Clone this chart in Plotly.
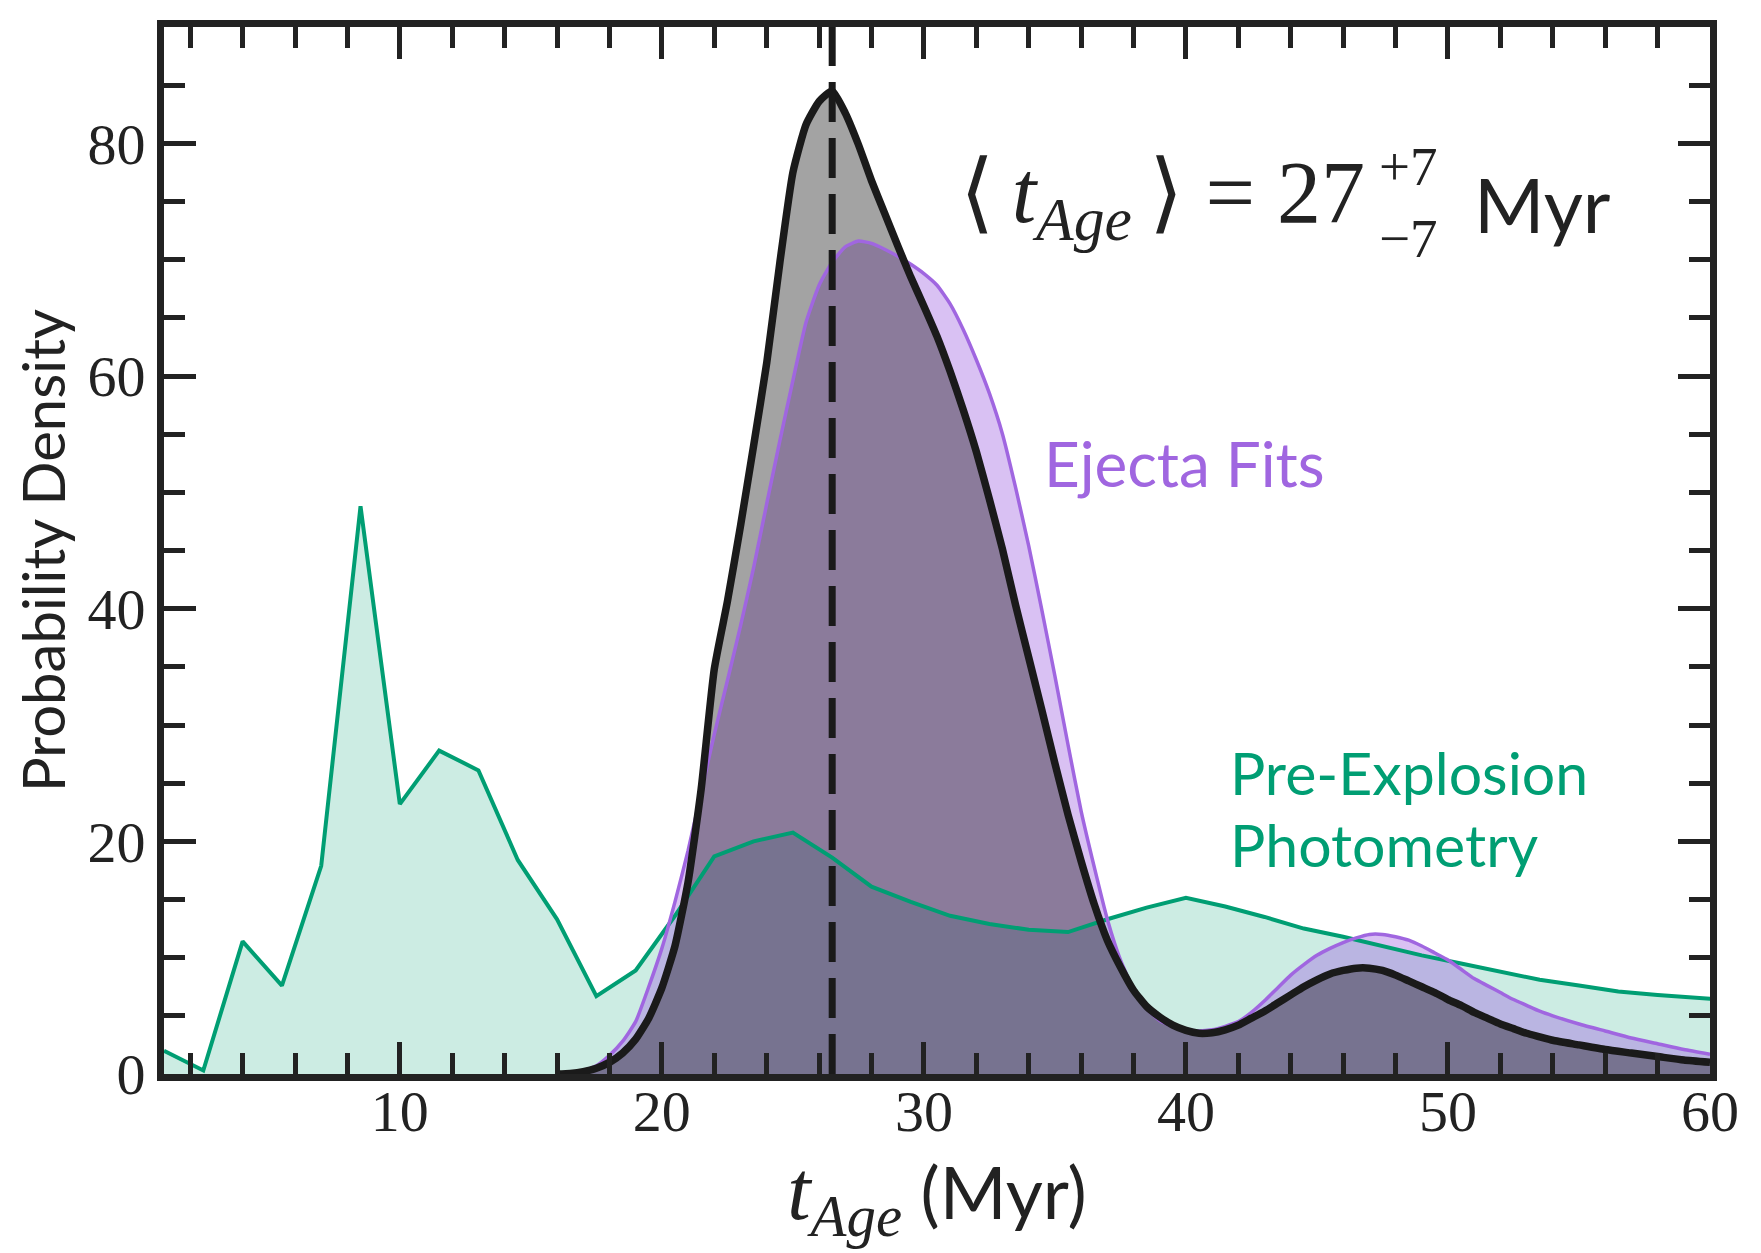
import plotly.graph_objects as go

# Edades (Myr) y densidades
t_pre = [1.0, 2.5, 4.0, 5.5, 7.0, 8.5, 10.0, 11.5, 13.0, 14.5, 16.0, 17.5, 19.0, 20.5,
         22.0, 23.5, 25.0, 26.5, 28.0, 29.5, 31.0, 32.5, 34.0, 35.5, 37.0, 38.5, 40.0,
         41.5, 43.0, 44.5, 46.0, 47.5, 49.0, 50.5, 52.0, 53.5, 55.0, 56.5, 58.0, 59.5, 61.0]
p_pre = [2.0, 0.3, 11.4, 7.6, 17.9, 48.8, 23.2, 27.8, 26.1, 18.4, 13.3, 6.7, 8.9, 13.6,
         18.7, 20.0, 20.75, 18.6, 16.1, 14.8, 13.6, 12.9, 12.4, 12.2, 13.3, 14.3, 15.15,
         14.4, 13.5, 12.5, 11.8, 11.0, 10.2, 9.5, 8.8, 8.1, 7.6, 7.1, 6.8, 6.5, 6.3]

t_grid = [16.0, 16.5, 17.0, 17.5, 18.0, 18.5, 19.0, 19.5, 20.0, 20.5, 21.0, 21.5, 22.0, 22.5,
          23.0, 23.5, 24.0, 24.5, 25.0, 25.5, 26.0, 26.5, 27.0, 27.5, 28.0, 28.5, 29.0, 29.5,
          30.0, 30.5, 31.0, 31.5, 32.0, 32.5, 33.0, 33.5, 34.0, 34.5, 35.0, 35.5, 36.0, 36.5,
          37.0, 37.5, 38.0, 38.5, 39.0, 39.5, 40.0, 40.5, 41.0, 41.5, 42.0, 42.5, 43.0, 43.5,
          44.0, 44.5, 45.0, 45.5, 46.0, 46.5, 47.0, 47.5, 48.0, 48.5, 49.0, 49.5, 50.0, 50.5,
          51.0, 51.5, 52.0, 52.5, 53.0, 53.5, 54.0, 55.0, 56.0, 57.0, 58.0, 59.0, 60.0]

p_ejecta = [0.0, 0.1, 0.3, 0.7, 1.6, 2.8, 4.5, 7.5, 10.8, 14.8, 19.2, 24.2, 29.2, 33.8,
            38.5, 43.5, 49.0, 54.4, 59.6, 64.6, 67.8, 69.8, 71.1, 71.6, 71.4, 70.9, 70.3, 69.6,
            68.8, 67.8, 66.2, 64.0, 61.4, 58.5, 55.0, 50.4, 45.4, 39.9, 34.2, 28.3, 22.6, 17.8,
            13.3, 9.8, 7.3, 5.6, 4.6, 4.1, 3.8, 3.7, 3.8, 4.1, 4.5, 5.3, 6.3, 7.4,
            8.5, 9.4, 10.2, 10.8, 11.3, 11.7, 12.0, 12.0, 11.8, 11.5, 11.0, 10.4, 9.8, 9.0,
            8.2, 7.6, 7.0, 6.4, 5.9, 5.4, 5.0, 4.3, 3.7, 3.1, 2.6, 2.1, 1.7]

p_comb = [0.0, 0.05, 0.2, 0.5, 1.0, 1.8, 3.0, 4.8, 7.4, 11.0, 16.5, 24.5, 34.8, 40.6,
          47.1, 54.0, 61.1, 69.7, 77.5, 81.6, 83.6, 84.5, 82.6, 79.9, 76.8, 74.0, 71.2, 68.5,
          66.0, 63.4, 60.4, 57.1, 53.5, 49.4, 45.1, 40.3, 35.8, 31.3, 26.7, 22.3, 18.3, 14.6,
          11.5, 9.2, 7.2, 5.8, 4.9, 4.2, 3.75, 3.5, 3.55, 3.8, 4.2, 4.8, 5.4, 6.1,
          6.8, 7.5, 8.1, 8.6, 8.9, 9.1, 9.1, 8.9, 8.5, 8.0, 7.5, 7.0, 6.4, 5.9,
          5.3, 4.8, 4.3, 3.9, 3.5, 3.2, 2.9, 2.5, 2.1, 1.8, 1.5, 1.2, 1.0]

t_media = 26.5  # linea discontinua

VERDE = '#009e73'
MORADO = '#a066e0'
NEGRO = '#1a1a1a'
EJE = '#222222'

fig = go.Figure()

# rellenos
fig.add_trace(go.Scatter(x=t_pre, y=p_pre, mode='lines', fill='tozeroy',
                         fillcolor='rgba(0,158,115,0.2)', line=dict(width=0), hoverinfo='skip'))
fig.add_trace(go.Scatter(x=t_grid, y=p_ejecta, mode='lines', fill='tozeroy',
                         fillcolor='rgba(160,100,224,0.4)', line=dict(width=0, shape='spline', smoothing=0.5),
                         hoverinfo='skip'))
fig.add_trace(go.Scatter(x=t_grid, y=p_comb, mode='lines', fill='tozeroy',
                         fillcolor='rgba(0,0,0,0.36)', line=dict(width=0, shape='spline', smoothing=0.5),
                         hoverinfo='skip'))

# lineas
fig.add_trace(go.Scatter(x=t_pre, y=p_pre, mode='lines', line=dict(color=VERDE, width=4)))
fig.add_trace(go.Scatter(x=t_grid, y=p_ejecta, mode='lines',
                         line=dict(color=MORADO, width=3.5, shape='spline', smoothing=0.5)))
fig.add_trace(go.Scatter(x=t_grid, y=p_comb, mode='lines',
                         line=dict(color=NEGRO, width=7.5, shape='spline', smoothing=0.5)))
fig.add_trace(go.Scatter(x=[t_media, t_media], y=[0, 90], mode='lines',
                         line=dict(color=NEGRO, width=7, dash='40px,16px')))

ejes = dict(showline=True, linewidth=7, linecolor=EJE, mirror='allticks',
            ticks='inside', tickwidth=5, tickcolor=EJE, ticklen=32,
            showgrid=False, zeroline=False,
            tickfont=dict(family='Liberation Serif', size=58, color=EJE))

fig.update_xaxes(range=[1, 60], dtick=10, tick0=0, ticklabelstandoff=-20,
                 minor=dict(dtick=2, ticks='inside', ticklen=21, tickwidth=5, tickcolor=EJE, showgrid=False),
                 title=dict(text="<span style=\"font-family:'Liberation Serif';font-size:84px\"><i>t</i><sub><i>Age</i></sub></span> (Myr)",
                            font=dict(family='Lato', size=72, color=EJE), standoff=7),
                 **ejes)
fig.update_yaxes(range=[0, 90], dtick=20, tick0=0,
                 minor=dict(dtick=5, ticks='inside', ticklen=21, tickwidth=5, tickcolor=EJE, showgrid=False),
                 title=dict(text='Probability Density', font=dict(family='Lato', size=58, color=EJE), standoff=22),
                 **ejes)

# textos
fig.add_annotation(x=46.9, y=75.3, xref='x', yref='y', xanchor='right', yanchor='middle', showarrow=False,
                   text="⟨\u2009<i>t</i><sub><i>Age</i></sub>\u2009⟩ = 27",
                   font=dict(family='Liberation Serif', size=88, color=EJE))
fig.add_annotation(x=47.3, y=74.9, xref='x', yref='y', xanchor='left', yanchor='middle', showarrow=False,
                   align='left', text='+7<br>−7',
                   font=dict(family='Liberation Serif', size=55, color=EJE))
fig.add_annotation(x=50.9, y=74.8, xref='x', yref='y', xanchor='left', yanchor='middle', showarrow=False,
                   text='Myr', font=dict(family='Lato', size=76, color=EJE))
fig.add_annotation(x=34.5, y=52.5, xref='x', yref='y', xanchor='left', yanchor='middle', showarrow=False,
                   text='Ejecta Fits', font=dict(family='Lato', size=62, color=MORADO))
fig.add_annotation(x=41.6, y=25.9, xref='x', yref='y', xanchor='left', yanchor='middle', showarrow=False,
                   text='Pre-Explosion', font=dict(family='Lato', size=59, color=VERDE))
fig.add_annotation(x=41.6, y=19.7, xref='x', yref='y', xanchor='left', yanchor='middle', showarrow=False,
                   text='Photometry', font=dict(family='Lato', size=59, color=VERDE))

fig.update_layout(width=1761, height=1253, showlegend=False,
                  plot_bgcolor='white', paper_bgcolor='white',
                  margin=dict(l=156, r=59, t=19, b=187))

fig.write_html("out.html")
